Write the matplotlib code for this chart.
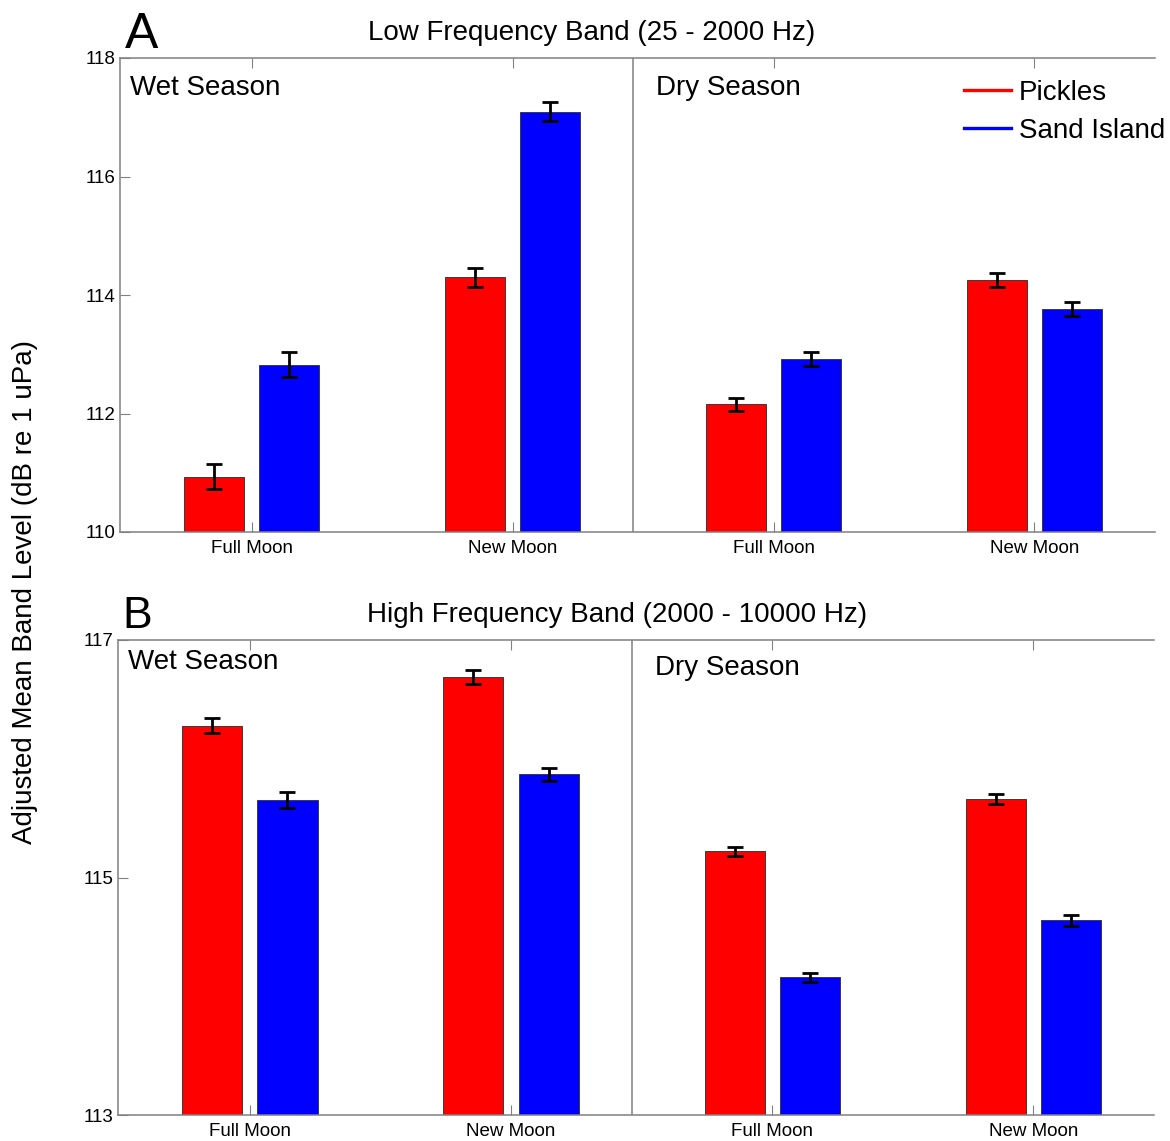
import numpy as np
import matplotlib
matplotlib.use("Agg")
import matplotlib.pyplot as plt
from matplotlib.lines import Line2D

plt.rcParams['font.family'] = ['Liberation Sans', 'DejaVu Sans']

# --- data ---
moon_labels = ['Full Moon', 'New Moon', 'Full Moon', 'New Moon']
seasons = ['Wet Season', 'Dry Season']
site_names = ['Pickles', 'Sand Island']
site_colors = ['#ff0000', '#0000ff']

low_pickles = [110.93, 114.30, 112.16, 114.25]
low_pickles_err = [0.21, 0.16, 0.11, 0.12]
low_sand = [112.82, 117.09, 112.92, 113.76]
low_sand_err = [0.21, 0.16, 0.11, 0.12]

high_pickles = [116.28, 116.69, 115.22, 115.66]
high_pickles_err = [0.067, 0.06, 0.04, 0.04]
high_sand = [115.65, 115.87, 114.16, 114.64]
high_sand_err = [0.067, 0.055, 0.04, 0.045]

low_ticks = [110, 112, 114, 116, 118]
high_ticks = [113, 115, 117]

# --- layout / style ---
W_PX, H_PX = 1170, 1141
BAR_W = 0.23
OFFSET = 0.144
XLIM = (0.495, 4.462)
DIVIDER = 2.462
GREY = '#808080'


def draw_panel(ax, pickles, pk_err, sand, sd_err, yticks, season_y):
    x = np.arange(1, len(moon_labels) + 1)
    for vals, errs, off, col in ((pickles, pk_err, -OFFSET, site_colors[0]),
                                 (sand, sd_err, OFFSET, site_colors[1])):
        ax.bar(x + off, vals, width=BAR_W, color=col, edgecolor='#3a3a3a',
               linewidth=0.7, zorder=2)
        ax.errorbar(x + off, vals, yerr=errs, fmt='none', ecolor='black',
                    elinewidth=2.0, capsize=5.5, capthick=2.0, zorder=3)

    ax.set_xlim(*XLIM)
    ax.set_ylim(yticks[0], yticks[-1])
    ax.set_yticks(yticks)
    ax.set_xticks(x)
    ax.set_xticklabels(moon_labels)
    ax.axvline(DIVIDER, color=GREY, lw=1.1, zorder=1)

    ax.spines['right'].set_visible(False)
    for s in ('left', 'bottom', 'top'):
        ax.spines[s].set_color(GREY)
        ax.spines[s].set_linewidth(1.1)
    ax.tick_params(direction='in', length=7, width=0.8, color=GREY,
                   top=True, right=False, labelsize=13.5)
    ax.tick_params(axis='y', pad=3)
    ax.tick_params(axis='x', pad=6)

    ax.text(0.0097, season_y[0], seasons[0], transform=ax.transAxes,
            fontsize=20, ha='left', va='center')
    ax.text(0.518, season_y[1], seasons[1], transform=ax.transAxes,
            fontsize=20, ha='left', va='center')


fig = plt.figure(figsize=(W_PX / 100, H_PX / 100), dpi=100)
ax_low = fig.add_axes([120 / W_PX, 1 - 532 / H_PX, 1035 / W_PX, 474 / H_PX])
ax_high = fig.add_axes([118 / W_PX, 1 - 1115 / H_PX, 1036 / W_PX, 475 / H_PX])

draw_panel(ax_low, low_pickles, low_pickles_err, low_sand, low_sand_err,
           low_ticks, (0.937, 0.937))
draw_panel(ax_high, high_pickles, high_pickles_err, high_sand, high_sand_err,
           high_ticks, (0.953, 0.942))

handles = [Line2D([], [], color=c, lw=2.4) for c in site_colors]
ax_low.legend(handles, site_names, loc='upper left',
              bbox_to_anchor=(0.815, 0.954), frameon=False, fontsize=20,
              handlelength=1.7, handletextpad=0.3, labelspacing=0.43,
              borderaxespad=0, borderpad=0)

fig.text(125 / W_PX, 1 - 35 / H_PX, 'A', fontsize=36, ha='left', va='center')
fig.text(122 / W_PX, 1 - 617 / H_PX, 'B', fontsize=32, ha='left', va='center')
fig.text(592 / W_PX, 1 - 33 / H_PX, 'Low Frequency Band (25 - 2000 Hz)',
         fontsize=20, ha='center', va='center')
fig.text(617 / W_PX, 1 - 615 / H_PX, 'High Frequency Band (2000 - 10000 Hz)',
         fontsize=20, ha='center', va='center')
fig.text(25 / W_PX, 1 - 592 / H_PX, 'Adjusted Mean Band Level (dB re 1 uPa)',
         fontsize=20, rotation=90, ha='center', va='center')

fig.savefig('out.png', dpi=100)
